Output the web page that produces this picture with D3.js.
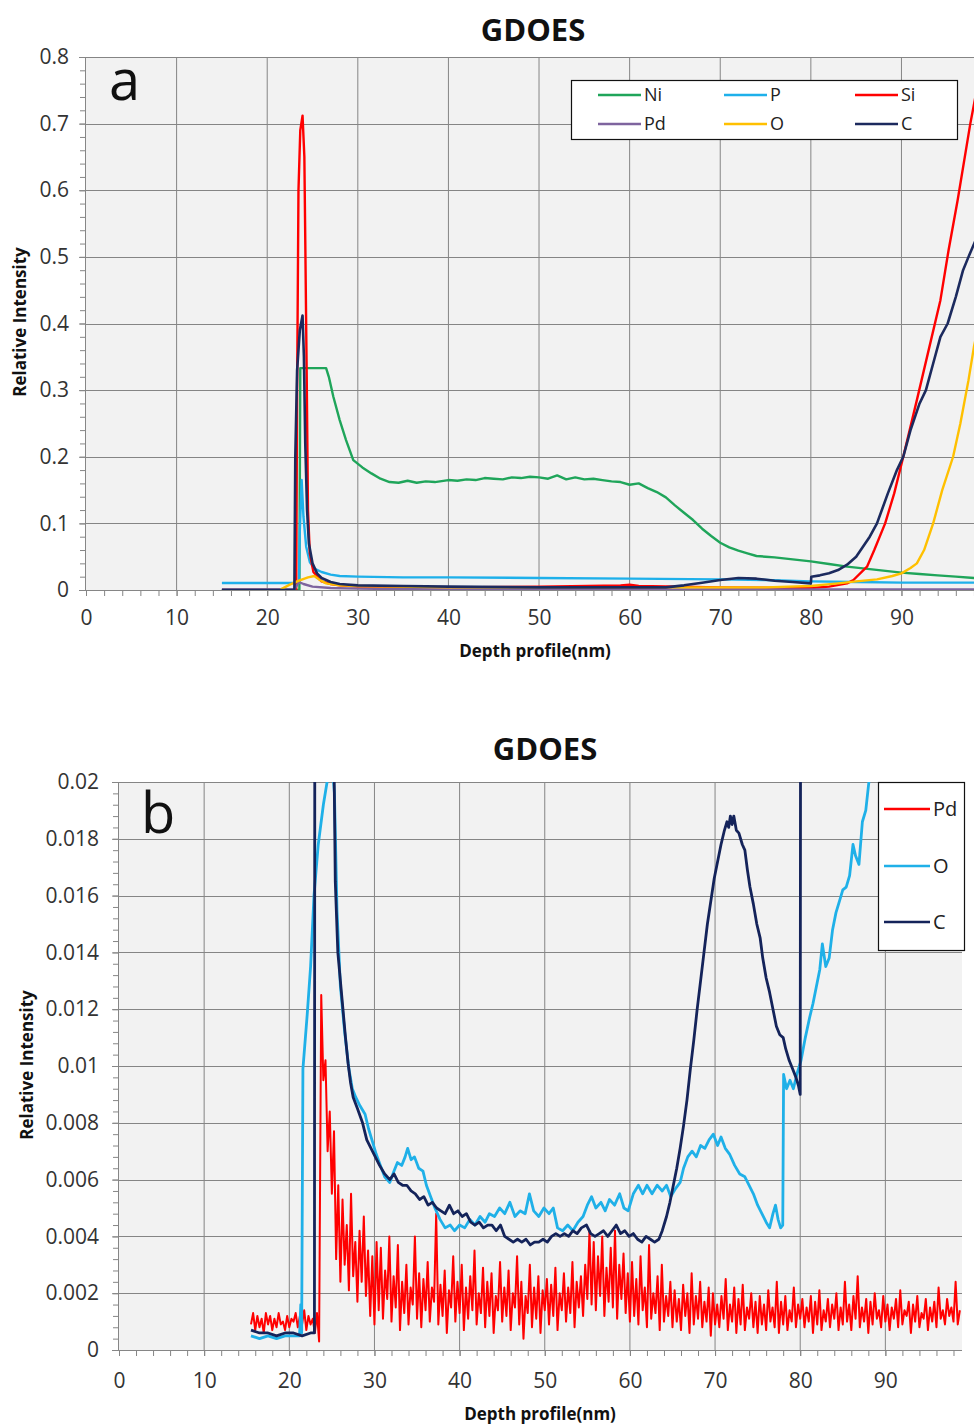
<!DOCTYPE html>
<html>
<head>
<meta charset="utf-8">
<script src="https://cdn.jsdelivr.net/npm/d3@7"></script>
<style>
  body { margin: 0; background: #fff; }
  svg { display: block; font-family: "Open Sans", sans-serif; }
</style>
</head>
<body>
<svg id="chart" width="974" height="1427"></svg>
<script>
// ---------- shared ----------
const depthTicks = [0, 10, 20, 30, 40, 50, 60, 70, 80, 90];

// ---------- panel a : [depth nm, relative intensity] ----------
const yTicksA = [0, 0.1, 0.2, 0.3, 0.4, 0.5, 0.6, 0.7, 0.8];

const niA = [[15,0],[23.55,0],[23.65,0.333],[26.5,0.333],[26.8,0.32],[27.3,0.29],[28,0.255],[28.7,0.225],
  [29.5,0.195],[30.5,0.184],[31.5,0.175],[32.5,0.167],[33.5,0.162],[34.5,0.161],[35.5,0.164],[36.5,0.161],
  [37.5,0.163],[38.5,0.162],[40,0.165],[41,0.164],[42,0.166],[43,0.165],[44,0.168],[45,0.167],[46,0.166],
  [47,0.169],[48,0.168],[49,0.17],[50,0.169],[51,0.167],[52,0.172],[53,0.166],[54,0.169],[55,0.166],
  [56,0.167],[57,0.165],[58,0.163],[59,0.162],[60,0.158],[61,0.16],[62,0.153],[63,0.147],[64,0.139],
  [65,0.127],[66,0.116],[67,0.105],[68,0.092],[69,0.081],[70,0.071],[71,0.064],[72,0.059],[73,0.055],
  [74,0.051],[75,0.05],[76,0.049],[78,0.046],[80,0.043],[82,0.039],[84,0.035],[86,0.032],[88,0.029],
  [90,0.026],[92,0.024],[94,0.022],[96,0.02],[98,0.018],[99,0.017]];

const pA = [[15,0.0105],[23.5,0.0105],[23.6,0.09],[23.8,0.165],[24.0,0.11],[24.3,0.065],[24.7,0.042],
  [25.2,0.032],[26,0.027],[27,0.023],[28,0.021],[30,0.02],[35,0.019],[40,0.019],[50,0.018],[60,0.017],
  [70,0.016],[75,0.015],[80,0.013],[85,0.012],[90,0.011],[99,0.011]];

const siA = [[15,0],[23.2,0],[23.3,0.3],[23.45,0.6],[23.65,0.69],[23.9,0.712],[24.1,0.65],[24.22,0.5],
  [24.36,0.32],[24.5,0.12],[24.7,0.055],[25.1,0.027],[26,0.013],[27,0.009],[28,0.007],[30,0.005],
  [40,0.004],[50,0.005],[59,0.007],[60,0.008],[61,0.006],[70,0.004],[80,0.003],[82,0.005],[84,0.01],
  [84.7,0.015],[86.2,0.035],[87,0.06],[88.2,0.1],[89.2,0.145],[90.2,0.2],[91.7,0.285],[93,0.36],
  [94.3,0.435],[95.2,0.51],[96.2,0.585],[97.6,0.7],[99,0.8]];

const pdA = [[15,0.001],[23,0.001],[23.5,0.012],[24,0.009],[25,0.005],[27,0.003],[30,0.002],[40,0.001],[99,0.001]];

const oA = [[21.5,0.001],[22.5,0.008],[23.5,0.014],[24.5,0.019],[25.2,0.021],[25.8,0.015],[26.5,0.01],
  [28,0.007],[30,0.006],[40,0.004],[50,0.004],[60,0.004],[70,0.004],[75,0.004],[80,0.006],[83,0.01],
  [85,0.013],[87.3,0.016],[89,0.021],[90,0.025],[91,0.033],[91.7,0.04],[92.5,0.06],[93.5,0.1],
  [94.5,0.15],[95.7,0.2],[96.5,0.25],[97.4,0.315],[98,0.365],[99,0.43]];

const cA = [[15,0],[23.0,0],[23.1,0.2],[23.3,0.33],[23.6,0.39],[23.9,0.412],[24.05,0.35],[24.2,0.22],
  [24.4,0.12],[24.6,0.07],[25,0.04],[25.5,0.025],[26,0.018],[27,0.012],[28,0.009],[30,0.007],[35,0.006],
  [40,0.005],[50,0.004],[60,0.004],[64,0.004],[66,0.007],[68,0.011],[70,0.015],[72,0.018],[74,0.017],
  [76,0.014],[78,0.012],[80,0.01],[80.05,0.02],[81,0.022],[82,0.025],[83,0.03],[84,0.038],[85,0.05],
  [85.6,0.062],[86.5,0.08],[87.3,0.1],[88.5,0.145],[89.5,0.18],[90.2,0.2],[91,0.24],[92,0.28],
  [92.7,0.3],[93.5,0.34],[94.3,0.38],[95.1,0.4],[96,0.44],[96.8,0.48],[97.4,0.5],[98.5,0.535],[99,0.55]];

// ---------- panel b ----------
const yTicksB = [0, 0.002, 0.004, 0.006, 0.008, 0.01, 0.012, 0.014, 0.016, 0.018, 0.02];

// Pd, sampled every 0.25 nm from 15.5 nm, values in units of 1e-4
const pdStart = 15.5, pdStep = 0.25, pdUnit = 1e-4;
const pdB = [
  9,13,7,12,8,11,6,13,9,12,7,11,8,13,9,10,7,12,8,11,
  10,13,8,12,9,14,7,12,9,11,6,13,3,125,95,102,70,84,55,77,
  32,58,24,53,30,44,21,55,26,38,17,42,24,47,19,35,12,33,9,38,
  14,36,11,28,18,40,10,26,15,37,7,24,13,30,9,22,16,40,11,27,
  8,25,14,31,10,22,17,48,9,23,12,28,6,21,15,33,10,24,13,30,
  7,22,11,26,14,35,9,20,13,29,8,24,12,27,6,19,14,31,10,22,
  12,28,7,20,15,33,9,24,4,19,13,30,8,22,11,26,6,21,14,25,
  9,23,12,29,7,20,14,27,10,22,13,31,8,24,15,26,12,30,18,42,
  16,38,14,33,19,40,12,29,17,36,15,42,11,30,18,34,13,27,10,31,
  12,25,9,33,14,22,8,37,11,20,13,26,7,30,10,19,12,24,8,21,
  10,18,7,23,12,20,6,27,9,19,11,24,8,17,10,22,5,20,9,16,
  8,19,11,25,7,16,10,22,6,18,9,23,7,15,11,20,8,17,6,19,
  9,16,7,21,10,15,8,24,6,17,9,19,7,14,10,22,8,16,11,18,
  8,15,10,19,6,17,9,21,7,14,10,18,8,16,11,20,7,15,9,24,
  10,16,7,19,11,26,8,15,10,18,6,17,9,20,11,14,8,19,10,16,
  7,15,11,18,8,21,9,14,12,17,6,16,10,19,8,13,11,18,7,15,
  10,17,8,22,11,14,9,18,12,15,10,24,9,14
];

const oB = [[15.5,0.0005],[16.5,0.0004],[17.5,0.0005],[18.5,0.0004],[19.5,0.0005],[20.5,0.0005],
  [21.2,0.0005],[21.35,0.0016],[21.45,0.0006],[21.6,0.0099],[22.1,0.0118],[22.5,0.0135],[22.9,0.016],
  [23.4,0.0178],[24,0.0192],[24.6,0.0203],[25.0,0.0208],[25.3,0.0196],[25.6,0.0155],[26.0,0.0128],
  [26.5,0.0112],[27.0,0.0099],[27.4,0.0092],[27.8,0.0089],[28.3,0.0086],[28.9,0.0083],[29.3,0.0078],
  [29.8,0.0073],[30.2,0.0069],[30.7,0.0065],[31.2,0.0061],[31.8,0.0059],[32.3,0.0063],[32.7,0.0066],
  [33.2,0.0065],[33.6,0.0068],[33.9,0.0071],[34.3,0.0067],[34.7,0.0068],[35.2,0.0064],[35.7,0.0063],
  [36.1,0.0058],[36.6,0.0054],[37.1,0.005],[37.7,0.0046],[38.3,0.0043],[38.9,0.0044],[39.4,0.0042],
  [40,0.0044],[40.6,0.0043],[41.2,0.0046],[41.8,0.0044],[42.4,0.0047],[43.0,0.0045],[43.5,0.0048],
  [44.1,0.0047],[44.7,0.005],[45.3,0.0048],[45.9,0.0052],[46.5,0.0047],[47.1,0.0049],[47.7,0.0048],
  [48.2,0.0055],[48.7,0.0049],[49.3,0.0047],[49.9,0.005],[50.5,0.0048],[51.0,0.005],[51.5,0.0043],
  [52.1,0.0042],[52.7,0.0044],[53.3,0.0042],[53.9,0.0045],[54.5,0.0047],[55.0,0.0051],[55.5,0.0054],
  [56.0,0.005],[56.6,0.0052],[57.1,0.0049],[57.6,0.0053],[58.2,0.0051],[58.8,0.0055],[59.3,0.005],
  [59.8,0.0049],[60.4,0.0055],[61.0,0.0058],[61.5,0.0055],[62.0,0.0058],[62.6,0.0055],[63.2,0.0058],
  [63.8,0.0056],[64.3,0.0058],[64.8,0.0054],[65.4,0.0057],[65.9,0.0059],[66.3,0.0064],[66.8,0.0068],
  [67.3,0.007],[67.8,0.0068],[68.3,0.0072],[68.8,0.0071],[69.3,0.0074],[69.8,0.0076],[70.3,0.0072],
  [70.7,0.0075],[71.2,0.0071],[71.7,0.0069],[72.3,0.0065],[72.9,0.0062],[73.5,0.0061],[74.0,0.0058],
  [74.5,0.0055],[75.0,0.0051],[75.5,0.0048],[76.0,0.0045],[76.4,0.0043],[76.8,0.0048],[77.1,0.0051],
  [77.4,0.0046],[77.7,0.0043],[77.95,0.0044],[78.05,0.0097],[78.4,0.0092],[78.8,0.0095],[79.2,0.0092],
  [79.6,0.0097],[80.1,0.0102],[80.6,0.011],[81.1,0.0117],[81.5,0.0122],[81.9,0.0128],[82.3,0.0134],
  [82.6,0.0143],[83.0,0.0135],[83.4,0.0138],[83.8,0.0148],[84.2,0.0154],[84.6,0.0158],[85.0,0.0162],
  [85.4,0.0163],[85.8,0.0167],[86.2,0.0178],[86.5,0.0174],[86.9,0.0171],[87.3,0.0186],[87.7,0.019],
  [88.1,0.0201],[88.6,0.0212]];

const cB = [[15.5,0.0007],[16.5,0.0006],[17.5,0.0006],[18.5,0.0005],[19.5,0.0006],[20.5,0.0006],
  [21.5,0.0005],[22.5,0.0006],[22.95,0.0006],[23.0,0.025],[25.1,0.025],[25.4,0.0165],[25.7,0.014],
  [26.0,0.013],[26.3,0.012],[26.6,0.011],[26.9,0.0101],[27.2,0.0094],[27.5,0.0089],[28.0,0.0085],
  [28.6,0.008],[29.1,0.0074],[29.6,0.0071],[30.1,0.0068],[30.6,0.0065],[31.2,0.0062],[31.8,0.006],
  [32.3,0.0062],[32.8,0.0059],[33.3,0.0058],[33.8,0.0058],[34.3,0.0056],[34.8,0.0055],[35.3,0.0053],
  [35.8,0.0054],[36.3,0.0051],[36.8,0.0052],[37.3,0.005],[37.8,0.0049],[38.3,0.0048],[38.8,0.0051],
  [39.3,0.0048],[39.8,0.0049],[40.3,0.0047],[40.8,0.0048],[41.3,0.0045],[41.8,0.0044],[42.3,0.0045],
  [42.8,0.0043],[43.3,0.0044],[43.8,0.0044],[44.3,0.0042],[44.8,0.0044],[45.3,0.004],[45.8,0.0039],
  [46.3,0.0038],[46.8,0.0039],[47.3,0.0038],[47.8,0.0039],[48.3,0.0037],[48.8,0.0038],[49.3,0.0038],
  [49.8,0.0039],[50.3,0.0038],[50.8,0.004],[51.3,0.0041],[51.8,0.004],[52.3,0.0041],[52.8,0.004],
  [53.3,0.0042],[53.8,0.0041],[54.3,0.0043],[54.9,0.0044],[55.4,0.0041],[55.9,0.004],[56.4,0.0041],
  [56.9,0.0042],[57.4,0.004],[57.9,0.0042],[58.4,0.0044],[58.9,0.0041],[59.4,0.0042],[59.9,0.004],
  [60.4,0.0041],[60.9,0.0039],[61.4,0.0038],[61.9,0.004],[62.4,0.0039],[62.9,0.0038],[63.4,0.0039],
  [63.8,0.0042],[64.3,0.0047],[64.7,0.0052],[65.1,0.0058],[65.5,0.0064],[65.9,0.0071],[66.3,0.0079],
  [66.7,0.0088],[67.1,0.0099],[67.5,0.0109],[67.9,0.012],[68.3,0.013],[68.7,0.014],[69.1,0.015],
  [69.5,0.0158],[69.9,0.0166],[70.3,0.0172],[70.7,0.0178],[71.1,0.0183],[71.4,0.0186],[71.6,0.0184],
  [71.8,0.0188],[72.0,0.0185],[72.2,0.0188],[72.5,0.0183],[72.8,0.0182],[73.2,0.0178],[73.5,0.0176],
  [73.8,0.0169],[74.1,0.0163],[74.5,0.0157],[74.9,0.015],[75.3,0.0145],[75.6,0.0138],[76.0,0.0131],
  [76.4,0.0126],[76.8,0.012],[77.2,0.0114],[77.6,0.0111],[78.0,0.011],[78.3,0.0106],[78.7,0.0102],
  [79.1,0.0099],[79.5,0.0096],[79.8,0.0093],[80.0,0.009],[80.05,0.025],[84,0.04],[99,0.55]];

const pdBpoints = pdB.map((v, i) => [pdStart + i * pdStep, v * pdUnit]);

// ---------- drawing ----------
const svg = d3.select("#chart");
const fmt = d3.format("~g");

function drawPanel(p) {
  const x = d3.scaleLinear().domain([0, 99]).range([p.left, p.right]);
  const y = d3.scaleLinear().domain([0, p.yMax]).range([p.bottom, p.top]);
  const g = svg.append("g");

  g.append("rect")
    .attr("x", p.left).attr("y", p.top)
    .attr("width", p.right - p.left).attr("height", p.bottom - p.top)
    .attr("fill", "#f2f2f2");

  // gridlines
  g.append("g").selectAll("line")
    .data(depthTicks.filter(d => d > 0))
    .join("line")
    .attr("x1", d => x(d)).attr("x2", d => x(d))
    .attr("y1", p.top).attr("y2", p.bottom)
    .attr("stroke", "#858585").attr("stroke-width", 1);
  g.append("g").selectAll("line")
    .data(p.yTicks.filter(d => d > 0))
    .join("line")
    .attr("x1", p.left).attr("x2", p.right)
    .attr("y1", d => Math.round(y(d)) + 0.5).attr("y2", d => Math.round(y(d)) + 0.5)
    .attr("stroke", "#858585").attr("stroke-width", 1);

  // series
  const clipId = `clip-${p.id}`;
  svg.append("defs").append("clipPath").attr("id", clipId)
    .append("rect")
    .attr("x", p.left).attr("y", p.top)
    .attr("width", p.right - p.left).attr("height", p.bottom - p.top);

  const line = d3.line().x(d => x(d[0])).y(d => y(d[1]));
  const plot = g.append("g").attr("clip-path", `url(#${clipId})`);
  p.series.forEach(s => {
    plot.append("path")
      .datum(s.values)
      .attr("fill", "none")
      .attr("stroke", s.color)
      .attr("stroke-width", s.width)
      .attr("stroke-linejoin", "round")
      .attr("d", line);
  });

  // axes
  const axisColor = "#868686";
  const xMinor = d3.axisBottom(x).tickValues(d3.range(0, 99, 2)).tickSize(6).tickFormat("");
  const yMinor = d3.axisLeft(y).tickValues(d3.range(0, p.yMax + p.yMinorStep / 2, p.yMinorStep)).tickSize(6).tickFormat("");
  const xAxis = d3.axisBottom(x).tickValues(depthTicks).tickSize(6).tickPadding(p.xPad).tickFormat(fmt);
  const yAxis = d3.axisLeft(y).tickValues(p.yTicks).tickSize(7).tickPadding(p.yPad).tickFormat(fmt);

  [xMinor, xAxis].forEach(ax => {
    const a = g.append("g").attr("transform", `translate(0,${p.bottom})`).call(ax);
    a.select(".domain").attr("stroke", axisColor).attr("d", `M${p.left},0.5H${p.right}`);
    a.selectAll(".tick line").attr("stroke", axisColor);
    a.selectAll("text").attr("fill", "#333").attr("font-size", 21).attr("font-family", "Open Sans");
  });
  [yMinor, yAxis].forEach(ax => {
    const a = g.append("g").attr("transform", `translate(${p.left},0)`).call(ax);
    a.select(".domain").attr("stroke", axisColor).attr("d", `M-0.5,${p.top}V${p.bottom}`);
    a.selectAll(".tick line").attr("stroke", axisColor);
    a.selectAll("text").attr("fill", "#333").attr("font-size", 21).attr("font-family", "Open Sans");
  });

  // titles
  svg.append("text").attr("x", p.titleX).attr("y", p.titleY)
    .attr("text-anchor", "middle").attr("font-weight", "bold").attr("font-size", 31)
    .attr("fill", "#111").text("GDOES");
  svg.append("text").attr("x", p.letterX).attr("y", p.letterY)
    .attr("font-size", 56).attr("fill", "#111").text(p.letter);
  svg.append("text").attr("x", p.xTitleX).attr("y", p.xTitleY)
    .attr("text-anchor", "middle").attr("font-weight", "bold").attr("font-size", 17)
    .attr("fill", "#111").text("Depth profile(nm)");
  svg.append("text")
    .attr("transform", `translate(${p.yTitleX},${p.yTitleY}) rotate(-90)`)
    .attr("text-anchor", "middle").attr("font-weight", "bold").attr("font-size", 17)
    .attr("fill", "#111").text("Relative Intensity");

  // legend
  const L = p.legend;
  const lg = svg.append("g");
  lg.append("rect").attr("x", L.x + 0.5).attr("y", L.y + 0.5)
    .attr("width", L.w).attr("height", L.h)
    .attr("fill", "#fff").attr("stroke", "#111").attr("stroke-width", 1.2);
  p.series.forEach((s, i) => {
    const [ex, ey] = L.pos(i);
    lg.append("line").attr("x1", ex).attr("x2", ex + L.len)
      .attr("y1", ey).attr("y2", ey)
      .attr("stroke", s.color).attr("stroke-width", 2.4);
    lg.append("text").attr("x", ex + L.len + 3).attr("y", ey)
      .attr("dy", "0.35em").attr("font-size", L.fs).attr("fill", "#222").text(s.name);
  });
}

drawPanel({
  id: "a", letter: "a",
  left: 86, right: 983, top: 57, bottom: 590,
  yMax: 0.8, yTicks: yTicksA, yMinorStep: 0.02,
  xPad: 14, yPad: 10,
  titleX: 533, titleY: 41, letterX: 109, letterY: 100,
  xTitleX: 535, xTitleY: 657, yTitleX: 26, yTitleY: 322,
  series: [
    { name: "Ni", color: "#1fa55a", width: 2.4, values: niA },
    { name: "P",  color: "#1eb0ea", width: 2.4, values: pA },
    { name: "Si", color: "#ff0000", width: 2.4, values: siA },
    { name: "Pd", color: "#7e649e", width: 2.4, values: pdA },
    { name: "O",  color: "#ffc000", width: 2.4, values: oA },
    { name: "C",  color: "#1c2a5e", width: 2.6, values: cA }
  ],
  legend: {
    x: 571, y: 80, w: 386, h: 59, len: 43, fs: 18,
    pos: i => [[598, 724, 855][i % 3], i < 3 ? 95 : 124]
  }
});

drawPanel({
  id: "b", letter: "b",
  left: 119, right: 962, top: 782, bottom: 1350,
  yMax: 0.02, yTicks: yTicksB, yMinorStep: 0.0004,
  xPad: 17, yPad: 13,
  titleX: 545, titleY: 760, letterX: 141, letterY: 833,
  xTitleX: 540, xTitleY: 1420, yTitleX: 33, yTitleY: 1065,
  series: [
    { name: "Pd", color: "#ff0000", width: 2, values: pdBpoints },
    { name: "O",  color: "#1fb0e8", width: 2.8, values: oB },
    { name: "C",  color: "#14235a", width: 2.8, values: cB }
  ],
  legend: {
    x: 878, y: 782, w: 86, h: 168, len: 46, fs: 20,
    pos: i => [884, [809, 866, 922][i]]
  }
});
</script>
</body>
</html>
